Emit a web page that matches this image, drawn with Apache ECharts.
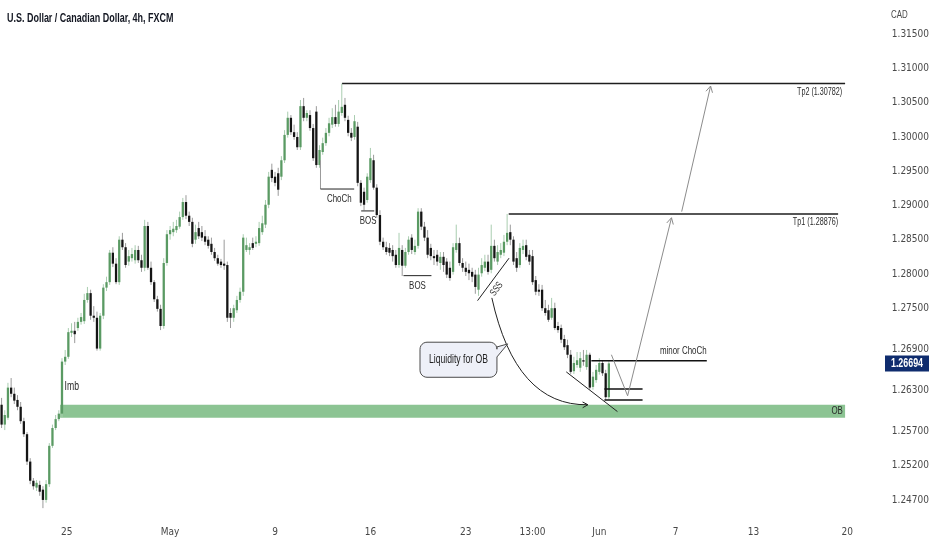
<!DOCTYPE html>
<html><head><meta charset="utf-8">
<script src="https://cdn.jsdelivr.net/npm/echarts@6/dist/echarts.min.js"></script>
<style>html,body{margin:0;padding:0;background:#fff}#c{width:932px;height:550px}</style>
</head><body><div id="c"></div>
<script>
// ---- data (4h bars, [open, close, low, high]) ----
const candles = [
[1.2609,1.2580,1.2575,1.2619],[1.2580,1.2594,1.2572,1.2601],[1.2590,1.2634,1.2587,1.2641],[1.2634,1.2625,1.2620,1.2648],
[1.2625,1.2615,1.2610,1.2634],[1.2616,1.2606,1.2601,1.2623],[1.2606,1.2585,1.2581,1.2613],[1.2585,1.2566,1.2562,1.2590],
[1.2566,1.2526,1.2521,1.2569],[1.2526,1.2498,1.2493,1.2531],[1.2498,1.2490,1.2485,1.2502],[1.2488,1.2495,1.2483,1.2499],
[1.2492,1.2482,1.2476,1.2498],[1.2485,1.2470,1.2458,1.2490],[1.2470,1.2493,1.2466,1.2499],[1.2493,1.2549,1.2489,1.2553],
[1.2549,1.2575,1.2546,1.2580],[1.2575,1.2588,1.2572,1.2594],[1.2588,1.2596,1.2585,1.2601],[1.2596,1.2672,1.2591,1.2677],
[1.2672,1.2679,1.2667,1.2689],[1.2679,1.2715,1.2676,1.2721],[1.2714,1.2717,1.2708,1.2728],[1.2717,1.2712,1.2699,1.2730],
[1.2721,1.2730,1.2717,1.2736],[1.2730,1.2737,1.2726,1.2743],[1.2731,1.2762,1.2727,1.2771],[1.2762,1.2772,1.2758,1.2781],
[1.2772,1.2739,1.2733,1.2777],[1.2739,1.2736,1.2730,1.2753],[1.2736,1.2691,1.2688,1.2745],[1.2691,1.2739,1.2688,1.2743],
[1.2739,1.2780,1.2734,1.2785],[1.2780,1.2788,1.2775,1.2796],[1.2788,1.2831,1.2784,1.2835],[1.2831,1.2815,1.2810,1.2839],
[1.2815,1.2788,1.2785,1.2823],[1.2788,1.2850,1.2784,1.2855],[1.2850,1.2839,1.2835,1.2860],[1.2839,1.2813,1.2809,1.2845],
[1.2818,1.2826,1.2812,1.2835],[1.2823,1.2829,1.2818,1.2838],[1.2820,1.2835,1.2815,1.2842],[1.2835,1.2820,1.2816,1.2841],
[1.2820,1.2809,1.2803,1.2828],[1.2809,1.2870,1.2804,1.2879],[1.2870,1.2809,1.2806,1.2876],[1.2809,1.2788,1.2784,1.2818],
[1.2788,1.2763,1.2759,1.2791],[1.2763,1.2749,1.2745,1.2768],[1.2749,1.2724,1.2718,1.2755],[1.2724,1.2816,1.2720,1.2823],
[1.2816,1.2858,1.2812,1.2864],[1.2858,1.2864,1.2850,1.2870],[1.2861,1.2866,1.2855,1.2876],[1.2864,1.2870,1.2860,1.2879],
[1.2869,1.2883,1.2866,1.2891],[1.2883,1.2905,1.2879,1.2911],[1.2905,1.2885,1.2880,1.2915],[1.2885,1.2876,1.2870,1.2891],
[1.2876,1.2844,1.2839,1.2882],[1.2850,1.2861,1.2844,1.2872],[1.2867,1.2855,1.2851,1.2876],[1.2861,1.2853,1.2848,1.2870],
[1.2855,1.2847,1.2842,1.2864],[1.2850,1.2841,1.2837,1.2855],[1.2844,1.2832,1.2828,1.2853],[1.2832,1.2823,1.2819,1.2838],
[1.2823,1.2815,1.2812,1.2828],[1.2818,1.2813,1.2809,1.2822],[1.2815,1.2812,1.2806,1.2850],[1.2813,1.2736,1.2730,1.2818],
[1.2743,1.2736,1.2721,1.2750],[1.2736,1.2750,1.2730,1.2755],[1.2747,1.2762,1.2743,1.2768],[1.2762,1.2774,1.2758,1.2780],
[1.2774,1.2853,1.2768,1.2858],[1.2835,1.2842,1.2832,1.2853],[1.2835,1.2839,1.2828,1.2845],[1.2845,1.2838,1.2835,1.2853],
[1.2844,1.2847,1.2839,1.2855],[1.2845,1.2867,1.2841,1.2876],[1.2861,1.2874,1.2857,1.2885],[1.2872,1.2901,1.2867,1.2908],
[1.2901,1.2942,1.2896,1.2949],[1.2952,1.2940,1.2934,1.2961],[1.2942,1.2933,1.2928,1.2949],[1.2947,1.2923,1.2914,1.2955],
[1.2942,1.2966,1.2937,1.2972],[1.2966,1.3003,1.2962,1.3010],[1.3003,1.3028,1.2999,1.3037],[1.3028,1.3007,1.3003,1.3032],
[1.3007,1.3000,1.2996,1.3018],[1.3000,1.2985,1.2981,1.3007],[1.2985,1.3045,1.2981,1.3054],[1.3045,1.3028,1.3023,1.3057],
[1.3028,1.3035,1.3023,1.3039],[1.3032,1.3013,1.3009,1.3039],[1.3013,1.2969,1.2965,1.3019],[1.3037,1.2959,1.2955,1.3045],
[1.2959,1.2981,1.2955,1.2988],[1.2978,1.2991,1.2974,1.2999],[1.2991,1.3006,1.2987,1.3013],[1.3006,1.3020,1.3001,1.3028],
[1.3018,1.3029,1.3013,1.3042],[1.3029,1.3019,1.3015,1.3047],[1.3019,1.3037,1.3015,1.3054],[1.3035,1.3044,1.3031,1.3078],
[1.3047,1.3028,1.3023,1.3057],[1.3025,1.3006,1.3001,1.3031],[1.3006,1.2999,1.2994,1.3013],[1.3000,1.3023,1.2996,1.3032],
[1.3015,1.2933,1.2928,1.3022],[1.2933,1.2904,1.2899,1.2937],[1.2920,1.2901,1.2893,1.2926],[1.2908,1.2942,1.2904,1.2947],
[1.2937,1.2969,1.2933,1.2984],[1.2966,1.2926,1.2923,1.2974],[1.2926,1.2886,1.2882,1.2931],[1.2886,1.2847,1.2842,1.2893],
[1.2847,1.2839,1.2835,1.2853],[1.2839,1.2832,1.2828,1.2847],[1.2838,1.2831,1.2826,1.2845],[1.2835,1.2826,1.2818,1.2842],
[1.2828,1.2813,1.2809,1.2835],[1.2813,1.2838,1.2809,1.2860],[1.2835,1.2812,1.2797,1.2842],[1.2812,1.2832,1.2809,1.2838],
[1.2832,1.2850,1.2828,1.2855],[1.2853,1.2835,1.2829,1.2858],[1.2832,1.2841,1.2828,1.2850],[1.2841,1.2891,1.2837,1.2896],
[1.2891,1.2869,1.2864,1.2896],[1.2869,1.2853,1.2848,1.2876],[1.2853,1.2828,1.2823,1.2864],[1.2838,1.2826,1.2820,1.2844],
[1.2826,1.2823,1.2813,1.2835],[1.2828,1.2818,1.2812,1.2835],[1.2816,1.2825,1.2806,1.2832],[1.2825,1.2813,1.2803,1.2832],
[1.2818,1.2799,1.2794,1.2823],[1.2809,1.2794,1.2790,1.2818],[1.2803,1.2839,1.2799,1.2845],[1.2835,1.2845,1.2831,1.2872],
[1.2845,1.2816,1.2812,1.2853],[1.2816,1.2809,1.2803,1.2823],[1.2809,1.2803,1.2797,1.2818],[1.2806,1.2801,1.2791,1.2815],
[1.2803,1.2796,1.2788,1.2809],[1.2799,1.2781,1.2771,1.2806],[1.2777,1.2799,1.2768,1.2809],[1.2801,1.2813,1.2796,1.2823],
[1.2809,1.2818,1.2804,1.2828],[1.2818,1.2803,1.2799,1.2828],[1.2806,1.2841,1.2801,1.2872],[1.2841,1.2823,1.2818,1.2850],
[1.2818,1.2832,1.2813,1.2842],[1.2828,1.2835,1.2823,1.2845],[1.2831,1.2847,1.2826,1.2857],[1.2847,1.2860,1.2842,1.28876],
[1.2861,1.2850,1.2842,1.2872],[1.2850,1.2818,1.2813,1.2855],[1.2823,1.2809,1.2803,1.2832],[1.2813,1.2838,1.2809,1.2845],
[1.2835,1.2841,1.2829,1.2850],[1.2842,1.2825,1.2820,1.2850],[1.2828,1.2818,1.2813,1.2835],[1.2826,1.2788,1.2784,1.2835],
[1.2791,1.2774,1.2769,1.2797],[1.2777,1.2774,1.2768,1.2785],[1.2777,1.2750,1.2746,1.2784],[1.2750,1.2743,1.2739,1.2762],
[1.2747,1.2733,1.2730,1.2755],[1.2736,1.2750,1.2733,1.2765],[1.2750,1.2721,1.2718,1.2758],[1.2724,1.2718,1.2714,1.2730],
[1.2721,1.2704,1.2699,1.2726],[1.2705,1.2693,1.2689,1.2711],[1.2696,1.2682,1.2677,1.2704],[1.2682,1.2657,1.2654,1.2689],
[1.2658,1.2670,1.2654,1.2679],[1.2667,1.2674,1.2663,1.2686],[1.2663,1.2677,1.2657,1.2686],[1.2674,1.2672,1.2666,1.2689],
[1.2664,1.2682,1.2660,1.2689],[1.2682,1.2634,1.2631,1.2685],[1.2635,1.2650,1.2631,1.2657],[1.2645,1.2660,1.2641,1.2667],
[1.2657,1.2670,1.2653,1.2677],[1.2670,1.2655,1.2651,1.2674],[1.2655,1.2620,1.2616,1.2660],[1.2620,1.26694,1.2617,1.2674]
];
const totalBars = 272;               // bar slots shown on the time axis (incl. empty future)
const yTicks = [1.247,1.252,1.257,1.263,1.269,1.275,1.280,1.285,1.290,1.295,1.300,1.305,1.310,1.315];
const xTickLabels = ['25','May','9','16','23','13:00','Jun','7','13','20'];
const xTickBars = [20.5,53,86,116,146,167,188,212,236.5,266];
const lastPrice = 1.26694;
const tp1 = 1.28876, tp2 = 1.30782;
const obZone = [1.2590, 1.2609];

const AXFONT = '"DejaVu Sans Condensed","Liberation Sans",sans-serif';
const FONT = '"Liberation Sans",Arial,sans-serif';
const SX = 0.72;   // horizontal squeeze of annotation text
const UP = '#5a9a63', DOWN = '#151515', UPW = '#a9cdb0', DOWNW = '#9a9a9a';

const chart = echarts.init(document.getElementById('c'));
chart.setOption({
  animation:false,
  backgroundColor:'#ffffff',
  grid:{left:0,right:67,top:0,bottom:35},
  xAxis:{type:'value',min:-0.5,max:totalBars-0.5,
    axisLine:{show:false},axisTick:{show:false},splitLine:{show:false},
    axisLabel:{customValues:xTickBars,formatter:v=>{const k=xTickBars.indexOf(v);return k<0?'':xTickLabels[k];},
      margin:12,color:'#474747',fontSize:10,fontFamily:AXFONT}},
  yAxis:{type:'value',position:'right',min:1.2448,max:1.32,
    axisLine:{show:false},axisTick:{show:false},splitLine:{show:false},
    axisLabel:{customValues:yTicks,formatter:v=>v.toFixed(5),margin:27,color:'#4a4a4a',fontSize:10,fontFamily:AXFONT}},
  series:[{
    type:'custom',clip:false,z:5,
    data:candles.map((d,i)=>[i,d[0],d[1],d[2],d[3]]),
    encode:{x:0,y:[1,2,3,4]},
    renderItem:(params,api)=>{
      const x=api.value(0),o=api.value(1),c=api.value(2),l=api.value(3),h=api.value(4);
      const po=api.coord([x,o]),pc=api.coord([x,c]),pl=api.coord([x,l]),ph=api.coord([x,h]);
      const w=api.size([1,0])[0]*0.72;
      const up=c>=o;
      const top=Math.min(po[1],pc[1]),bot=Math.max(po[1],pc[1]);
      return {type:'group',children:[
        {type:'line',shape:{x1:pl[0],y1:pl[1],x2:ph[0],y2:ph[1]},style:{stroke:up?UPW:DOWNW,lineWidth:1}},
        {type:'rect',shape:{x:po[0]-w/2,y:top,width:w,height:Math.max(bot-top,1)},style:{fill:up?UP:DOWN}}
      ]};
    }
  }]
});

// ---- annotations (in data coordinates: bar index, price) ----
const P=(i,p)=>chart.convertToPixel({gridIndex:0},[i,p]);
const g=[];
const seg=(a,b,stroke,lw,z)=>g.push({type:'line',z:z||60,shape:{x1:a[0],y1:a[1],x2:b[0],y2:b[1]},style:{stroke,lineWidth:lw||1}});
const txt=(pt,text,style,extra)=>g.push(Object.assign({type:'text',z:70,x:pt[0],y:pt[1],scaleX:SX,
  style:Object.assign({text,fontFamily:FONT,fontSize:10,fill:'#2a2a2a',align:'center',verticalAlign:'middle'},style||{})},extra||{}));
const arrowHead=(from,tip,stroke,len)=>{
  const dx=tip[0]-from[0],dy=tip[1]-from[1],L=Math.hypot(dx,dy),ux=dx/L,uy=dy/L,a=0.5;
  const r=(s)=>[tip[0]-len*(ux*Math.cos(s*a)-uy*Math.sin(s*a)),tip[1]-len*(ux*Math.sin(s*a)+uy*Math.cos(s*a))];
  g.push({type:'polyline',z:60,shape:{points:[r(1),tip,r(-1)]},style:{stroke,lineWidth:1,fill:null}});
};

// OB zone
{const a=P(18.4,obZone[1]),b=P(265.3,obZone[0]);
 g.push({type:'rect',z:1,shape:{x:a[0],y:a[1],width:b[0]-a[0],height:b[1]-a[1]},style:{fill:'#8cc493'}});}
txt(P(264.6,(obZone[0]+obZone[1])/2),'OB',{align:'right',fontSize:11});
txt(P(19.8,1.2636),'Imb',{align:'left',fontSize:12});

// targets
seg(P(107.1,tp2),P(265.3,tp2),'#1e1e1e',1.5);
seg(P(159.5,tp1),P(263.1,tp1),'#1e1e1e',1.5);
txt(P(264.4,1.3066),'Tp2 (1.30782)',{align:'right',fontSize:10});
txt(P(263.1,1.2876),'Tp1 (1.28876)',{align:'right',fontSize:10});

// ChoCh / BOS
seg(P(100.3,1.2966),P(100.3,1.2924),'#9a9a9a',1);
seg(P(100.3,1.2924),P(110.9,1.2924),'#222',1);
txt(P(106.2,1.2910),'ChoCh',{fontSize:11});
seg(P(113.1,1.2892),P(117.2,1.2892),'#222',1);
txt(P(115.3,1.2878),'BOS',{fontSize:11});
seg(P(126.4,1.27975),P(135.2,1.27975),'#222',1);
txt(P(130.8,1.2783),'BOS',{fontSize:11});

// SSS
{const a=P(149.7,1.2761),b=P(159.6,1.2823);seg(a,b,'#222',1);
 txt(P(155.7,1.2778),'SSS',{fontSize:10},{rotation:Math.atan2(a[1]-b[1],b[0]-a[0])});}

// curved arrow
{const p0=P(154.2,1.2765),c=P(161.7,1.2607),p2=P(184.4,1.2609);
 g.push({type:'bezierCurve',z:60,shape:{x1:p0[0],y1:p0[1],x2:p2[0],y2:p2[1],cpx1:c[0],cpy1:c[1]},style:{stroke:'#222',lineWidth:1,fill:null}});
 arrowHead(c,p2,'#222',6);}

// callout box with pointer
{const tl=P(131.6,1.27003),br=P(155.8,1.26491),tip=P(159.2,1.26978),b1=P(155.8,1.26934),b2=P(155.8,1.26788);
 const x0=tl[0],y0=tl[1],x1=br[0],y1=br[1],r=7,pts=[];
 const arc=(cx,cy,a0,a1)=>{for(let k=0;k<=6;k++){const a=a0+(a1-a0)*k/6;pts.push([cx+r*Math.cos(a),cy+r*Math.sin(a)]);}};
 arc(x0+r,y0+r,Math.PI,1.5*Math.PI);
 arc(x1-r,y0+r,1.5*Math.PI,2*Math.PI);
 pts.push([x1,b1[1]],tip,[x1,b2[1]]);
 arc(x1-r,y1-r,0,0.5*Math.PI);
 arc(x0+r,y1-r,0.5*Math.PI,Math.PI);
 g.push({type:'polygon',z:65,shape:{points:pts},style:{fill:'#eef0f8',stroke:'#4a4a4a',lineWidth:1}});
 txt([(x0+x1)/2,(y0+y1)/2],'Liquidity for OB',{fontSize:12,fill:'#222'});}

// descending trendline
seg(P(177.6,1.2657),P(193.7,1.2599),'#222',1);

// minor ChoCh
seg(P(185.5,1.26734),P(221.8,1.26734),'#111',1.5);
txt(P(214.4,1.26875),'minor ChoCh',{fontSize:11});
seg(P(189.6,1.2632),P(201.6,1.2632),'#111',1.5);
seg(P(189.6,1.2616),P(201.6,1.2616),'#111',1.5);

// projected path
{const a=P(191.8,1.2682),b=P(196.9,1.2622),c=P(210.7,1.2882);
 g.push({type:'polyline',z:60,shape:{points:[a,b,c]},style:{stroke:'#8c8c8c',lineWidth:1,fill:null}});
 arrowHead(b,c,'#8c8c8c',7);
 const d=P(213.9,1.2891),e=P(223,1.30744);
 seg(d,e,'#8c8c8c',1); arrowHead(d,e,'#8c8c8c',7);}

// header, currency, last price tag
txt([7,18],'U.S. Dollar / Canadian Dollar, 4h, FXCM',{align:'left',fontSize:13,fill:'#131722',fontWeight:'bold'},{scaleX:0.69});
txt([891,15],'CAD',{align:'left',fontSize:11,fill:'#4a4a4a'});
{const y=P(0,lastPrice)[1];
 g.push({type:'rect',z:80,shape:{x:885,y:y-8,width:44,height:16},style:{fill:'#0f2c6e'}});
 txt([907,y],lastPrice.toFixed(5),{fontSize:12,fontWeight:'bold',fill:'#ffffff'},{z:81,scaleX:0.74});}

chart.setOption({graphic:{elements:g}});
</script></body></html>
